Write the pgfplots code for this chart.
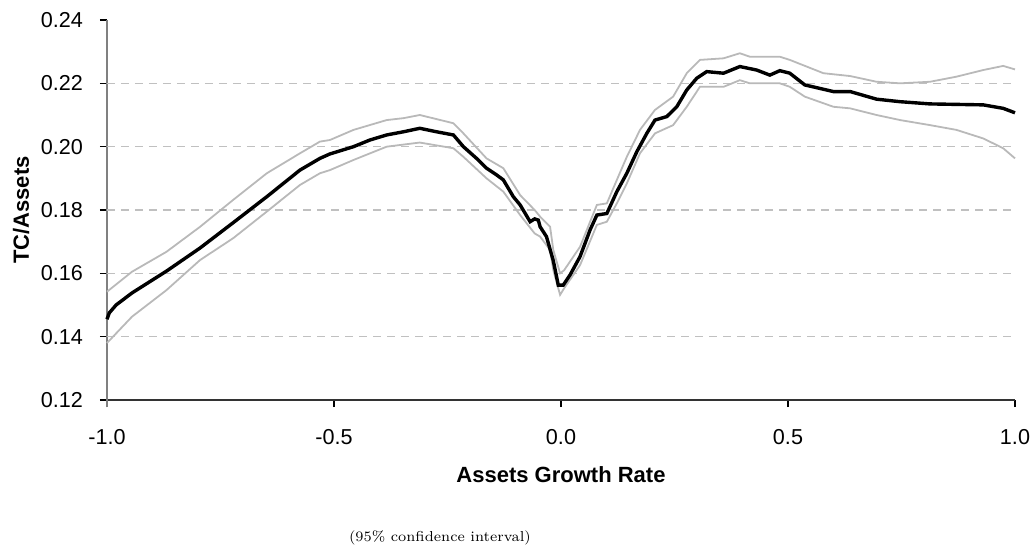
\documentclass[border=0pt]{standalone}
\usepackage{pgfplots}
\pgfplotsset{compat=1.18}
\usepackage{fontspec}
\newfontfamily\arial{Liberation Sans}
\definecolor{bandgray}{RGB}{185,185,185}
\definecolor{gridgray}{RGB}{192,192,192}
\definecolor{axgray}{RGB}{128,128,128}
\begin{document}
\begin{tikzpicture}
\useasboundingbox (0,0) rectangle (517.5pt,276.5pt);
\begin{axis}[
  at={(53.5pt,76.5pt)}, anchor=south west,
  scale only axis, width=454pt, height=190pt,
  xmin=-1, xmax=1, ymin=0.12, ymax=0.24,
  axis x line*=bottom, axis y line*=left,
  x axis line style={black!80, line width=0.6pt, -},
  y axis line style={axgray, line width=0.6pt, -, shorten <=-3.5pt},
  tick align=outside, major tick length=3.5pt,
  tick style={black, line width=0.6pt},
  xtick={-1,-0.5,0,0.5,1},
  ytick={0.12,0.14,0.16,0.18,0.20,0.22,0.24},
  extra y ticks={0.14,0.16,0.18,0.20,0.22},
  extra y tick labels={},
  extra y tick style={grid=major, major tick length=0pt, major grid style={gridgray, line width=0.6pt, dash pattern=on 4pt off 3pt}},
  ticklabel style={font=\arial\fontsize{10.8}{12}\selectfont},
  /pgf/number format/assume math mode=true,
  xticklabel style={yshift=-7.5pt, /pgf/number format/.cd, fixed, fixed zerofill, precision=1},
  yticklabel style={xshift=-5pt, /pgf/number format/.cd, fixed, fixed zerofill, precision=2},
  xlabel={Assets Growth Rate},
  ylabel={TC/Assets},
  label style={font=\arial\bfseries\fontsize{11}{13}\selectfont},
  xlabel style={at={(axis description cs:0.5,-0.197)}, anchor=center},
  ylabel style={at={(axis description cs:-0.0947,0.5)}, anchor=center},
  clip=false,
]
\addplot[bandgray, line width=0.9pt] coordinates {
(-1.000,0.1542) (-0.945,0.1605) (-0.869,0.1668) (-0.795,0.1747) (-0.722,0.1832)
(-0.648,0.1916) (-0.575,0.1979) (-0.531,0.2016) (-0.509,0.2021) (-0.457,0.2053)
(-0.384,0.2084) (-0.347,0.2090) (-0.311,0.2100) (-0.237,0.2074) (-0.215,0.2042)
(-0.164,0.1963) (-0.127,0.1932) (-0.090,0.1847) (-0.058,0.1800) (-0.046,0.1779)
(-0.024,0.1747) (-0.017,0.1674) (-0.002,0.1600) (0.007,0.1610) (0.042,0.1684)
(0.079,0.1816) (0.101,0.1821) (0.123,0.1895) (0.145,0.1968) (0.174,0.2053)
(0.207,0.2116) (0.247,0.2158) (0.277,0.2232) (0.306,0.2274) (0.358,0.2279)
(0.394,0.2295) (0.416,0.2284) (0.482,0.2284) (0.504,0.2274) (0.578,0.2232)
(0.637,0.2223) (0.695,0.2205) (0.747,0.2200) (0.813,0.2205) (0.871,0.2221)
(0.930,0.2242) (0.974,0.2255) (1.000,0.2244)
};
\addplot[bandgray, line width=0.9pt] coordinates {
(-1.000,0.1380) (-0.945,0.1463) (-0.869,0.1547) (-0.795,0.1642) (-0.722,0.1711)
(-0.648,0.1795) (-0.575,0.1879) (-0.531,0.1916) (-0.509,0.1926) (-0.457,0.1958)
(-0.384,0.2000) (-0.311,0.2013) (-0.237,0.1995) (-0.215,0.1968) (-0.164,0.1900)
(-0.127,0.1858) (-0.090,0.1784) (-0.058,0.1726) (-0.046,0.1716) (-0.024,0.1674)
(-0.017,0.1610) (-0.002,0.1532) (0.007,0.1553) (0.042,0.1626) (0.079,0.1753)
(0.101,0.1763) (0.123,0.1821) (0.145,0.1884) (0.174,0.1979) (0.207,0.2042)
(0.247,0.2068) (0.277,0.2126) (0.306,0.2189) (0.358,0.2189) (0.394,0.2210)
(0.416,0.2200) (0.482,0.2200) (0.504,0.2189) (0.537,0.2158) (0.600,0.2126)
(0.637,0.2121) (0.695,0.2100) (0.747,0.2084) (0.813,0.2068) (0.871,0.2053)
(0.930,0.2026) (0.974,0.1995) (1.000,0.1963)
};
\addplot[black, line width=1.7pt] coordinates {
(-1.000,0.1455) (-0.995,0.1475) (-0.980,0.1500) (-0.945,0.1538) (-0.869,0.1607)
(-0.795,0.1680) (-0.722,0.1760) (-0.648,0.1842) (-0.575,0.1926) (-0.531,0.1963)
(-0.509,0.1977) (-0.457,0.2000) (-0.421,0.2021) (-0.384,0.2037) (-0.347,0.2047)
(-0.311,0.2058) (-0.274,0.2047) (-0.237,0.2037) (-0.215,0.2000) (-0.186,0.1963)
(-0.164,0.1932) (-0.142,0.1911) (-0.127,0.1895) (-0.105,0.1842) (-0.090,0.1816)
(-0.068,0.1763) (-0.058,0.1772) (-0.050,0.1768) (-0.046,0.1747) (-0.032,0.1716)
(-0.017,0.1640) (-0.006,0.1563) (0.005,0.1563) (0.020,0.1595) (0.042,0.1653)
(0.064,0.1737) (0.079,0.1784) (0.101,0.1789) (0.123,0.1858) (0.145,0.1916)
(0.167,0.1984) (0.189,0.2042) (0.207,0.2084) (0.233,0.2095) (0.255,0.2126)
(0.277,0.2179) (0.299,0.2216) (0.321,0.2237) (0.358,0.2232) (0.394,0.2253)
(0.431,0.2242) (0.460,0.2226) (0.482,0.2240) (0.504,0.2232) (0.537,0.2195)
(0.600,0.2174) (0.637,0.2174) (0.695,0.2150) (0.747,0.2142) (0.813,0.2135)
(0.930,0.2132) (0.974,0.2121) (1.000,0.2107)
};
\node[font=\fontsize{7.2}{9}\selectfont, anchor=center] at (axis description cs:0.3667,-0.363) {(95\% confidence interval)};
\end{axis}
\end{tikzpicture}
\end{document}
